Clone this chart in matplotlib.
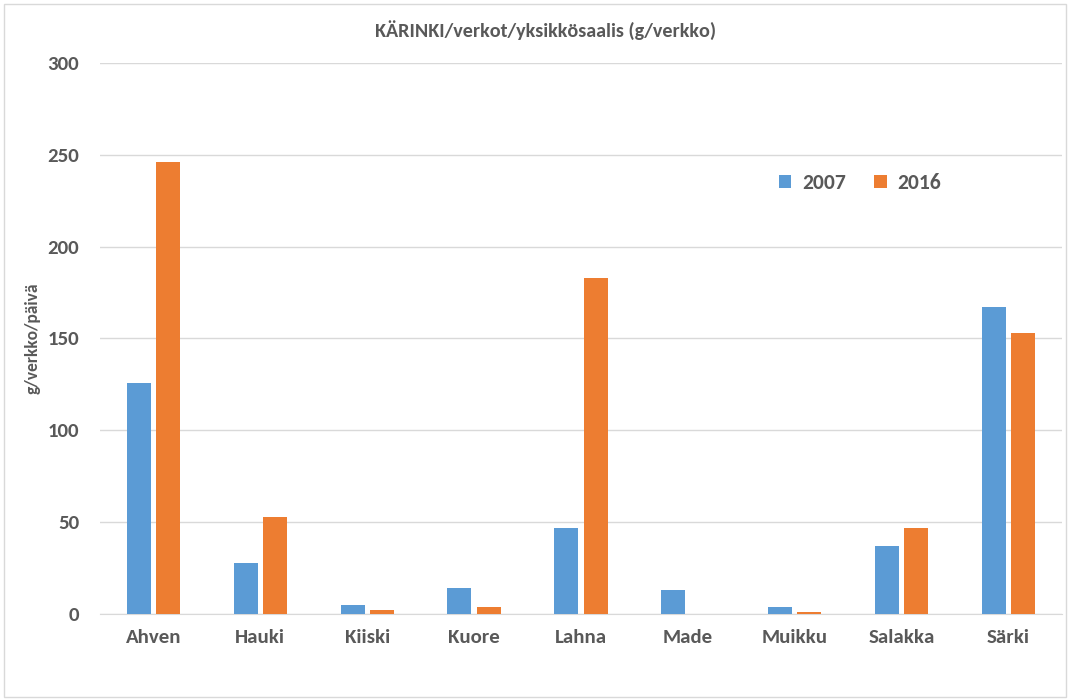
import matplotlib.pyplot as plt
import numpy as np
from matplotlib.patches import Rectangle

# data
lajit = ["Ahven", "Hauki", "Kiiski", "Kuore", "Lahna", "Made", "Muikku", "Salakka", "Särki"]
v2007 = [126, 28, 5, 14, 47, 13, 4, 37, 167]
v2016 = [246, 53, 2, 4, 183, 0, 1, 47, 153]

plt.rcParams['font.family'] = ['Carlito', 'Open Sans', 'DejaVu Sans']
txt = '#595959'

fig = plt.figure(figsize=(10.7, 7), dpi=100)
fig.patches.append(Rectangle((0.004, 0.004), 0.992, 0.99, transform=fig.transFigure,
                             fill=False, edgecolor='#d9d9d9', lw=1))
ax = fig.add_axes([100/1070, 86/700, 962/1070, 551/700])

x = np.arange(len(lajit))
w = 0.225
ax.bar(x - 0.137, v2007, w, color='#5b9bd5', label='2007', zorder=3)
ax.bar(x + 0.137, v2016, w, color='#ed7d31', label='2016', zorder=3)

ax.set_xlim(-0.5, len(lajit) - 0.5)
ax.set_ylim(0, 300)
ax.set_yticks(range(0, 301, 50))
ax.set_xticks(x)
ax.set_xticklabels(lajit)
ax.grid(axis='y', color='#d9d9d9', lw=1, zorder=0)
for s in ['top', 'right', 'left']:
    ax.spines[s].set_visible(False)
ax.spines['bottom'].set_color('#d9d9d9')
ax.tick_params(length=0, labelsize=15, labelcolor=txt)
ax.tick_params(axis='y', pad=15)
ax.tick_params(axis='x', pad=11)
for lab in ax.get_xticklabels() + ax.get_yticklabels():
    lab.set_fontweight('bold')

ax.set_ylabel('g/verkko/päivä', fontsize=12.5, fontweight='bold', color=txt)
ax.yaxis.set_label_coords(-0.062, 0.5)
fig.text(0.51, 0.957, 'KÄRINKI/verkot/yksikkösaalis (g/verkko)', ha='center', va='center',
         fontsize=14.5, fontweight='bold', color=txt)

leg = ax.legend(loc='center', bbox_to_anchor=(860/1070, 1 - 183/700), bbox_transform=fig.transFigure,
                ncol=2, frameon=False, fontsize=15.5, handlelength=0.6, handleheight=0.6,
                columnspacing=1.3, handletextpad=0.5)
for t in leg.get_texts():
    t.set_color(txt)
    t.set_fontweight('bold')

fig.savefig('out.png', dpi=100)
